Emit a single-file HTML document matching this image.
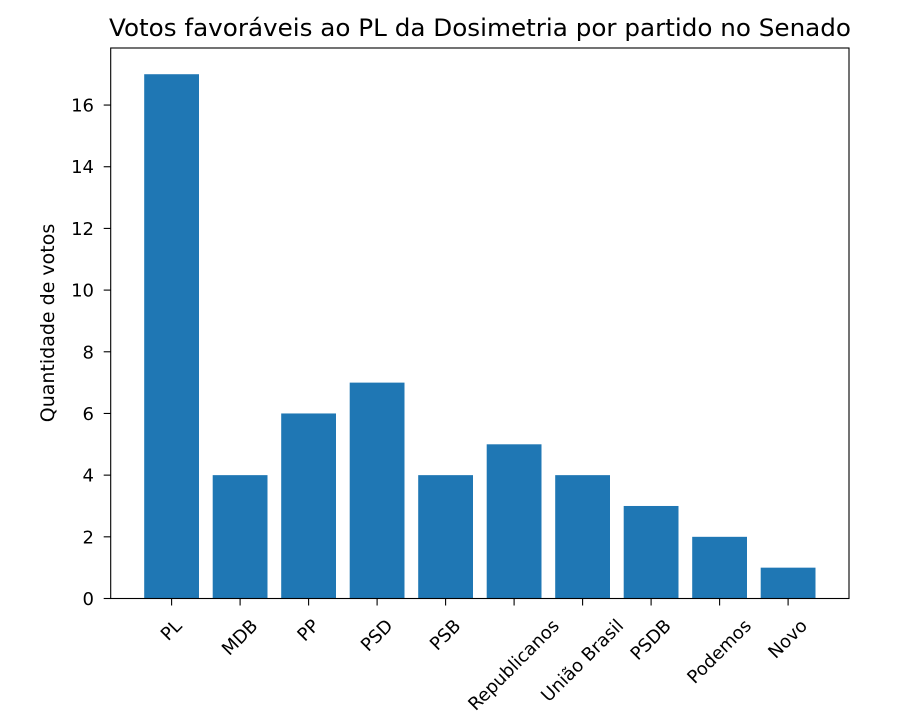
<!DOCTYPE html>
<html><head><meta charset="utf-8"><style>
body{margin:0;background:#fff}
svg{display:block;font-family:"DejaVu Sans","Liberation Sans",sans-serif}
</style></head><body>
<svg id="s" width="907" height="723" viewBox="0 0 907 723">
<rect width="907" height="723" fill="#fff"/>
<text x="480" y="36" font-size="24" text-anchor="middle" fill="#000" textLength="742" lengthAdjust="spacingAndGlyphs">Votos favoráveis ao PL da Dosimetria por partido no Senado</text>
<g id="bars" fill="#1f77b4"></g>
<g id="axes" stroke="#000" stroke-width="1.1" fill="none">
<rect x="110.7" y="48" width="738.3" height="550.5"/>
</g>
<g id="yt" font-size="18" fill="#000" text-anchor="end"></g>
<g id="xt" font-size="18" fill="#000"></g>
<text transform="translate(54,323) rotate(-90)" font-size="19" text-anchor="middle" fill="#000">Quantidade de votos</text>
</svg>
<script>
var NS="http://www.w3.org/2000/svg";
function el(t,a,p){var e=document.createElementNS(NS,t);for(var k in a)e.setAttribute(k,a[k]);p.appendChild(e);return e;}
var names=["PL","MDB","PP","PSD","PSB","Republicanos","União Brasil","PSDB","Podemos","Novo"];
var vals=[17,4,6,7,4,5,4,3,2,1];
var x0=171.6,dx=68.5,y0=598.5,dy=30.84,bw=54.8;
var bars=document.getElementById("bars"),axes=document.getElementById("axes"),yt=document.getElementById("yt"),xt=document.getElementById("xt");
for(var i=0;i<10;i++){var cx=x0+i*dx;
el("rect",{x:cx-bw/2,y:y0-vals[i]*dy,width:bw,height:vals[i]*dy},bars);
el("line",{x1:cx,y1:y0,x2:cx,y2:y0+7},axes);
var t=el("text",{"text-anchor":"middle","dominant-baseline":"central"},xt);t.textContent=names[i];
var L=t.getComputedTextLength(),h=14;var b=(L+h)*0.7071;
var cy=618+b/2;t.setAttribute("x",cx);t.setAttribute("y",cy);t.setAttribute("transform","rotate(-45 "+cx+" "+cy+")");
}
for(var v=0;v<=16;v+=2){var y=y0-v*dy;el("line",{x1:110.7,y1:y,x2:103.7,y2:y},axes);
var t=el("text",{x:94,y:y+6.5},yt);t.textContent=v;}
</script>
</body></html>
